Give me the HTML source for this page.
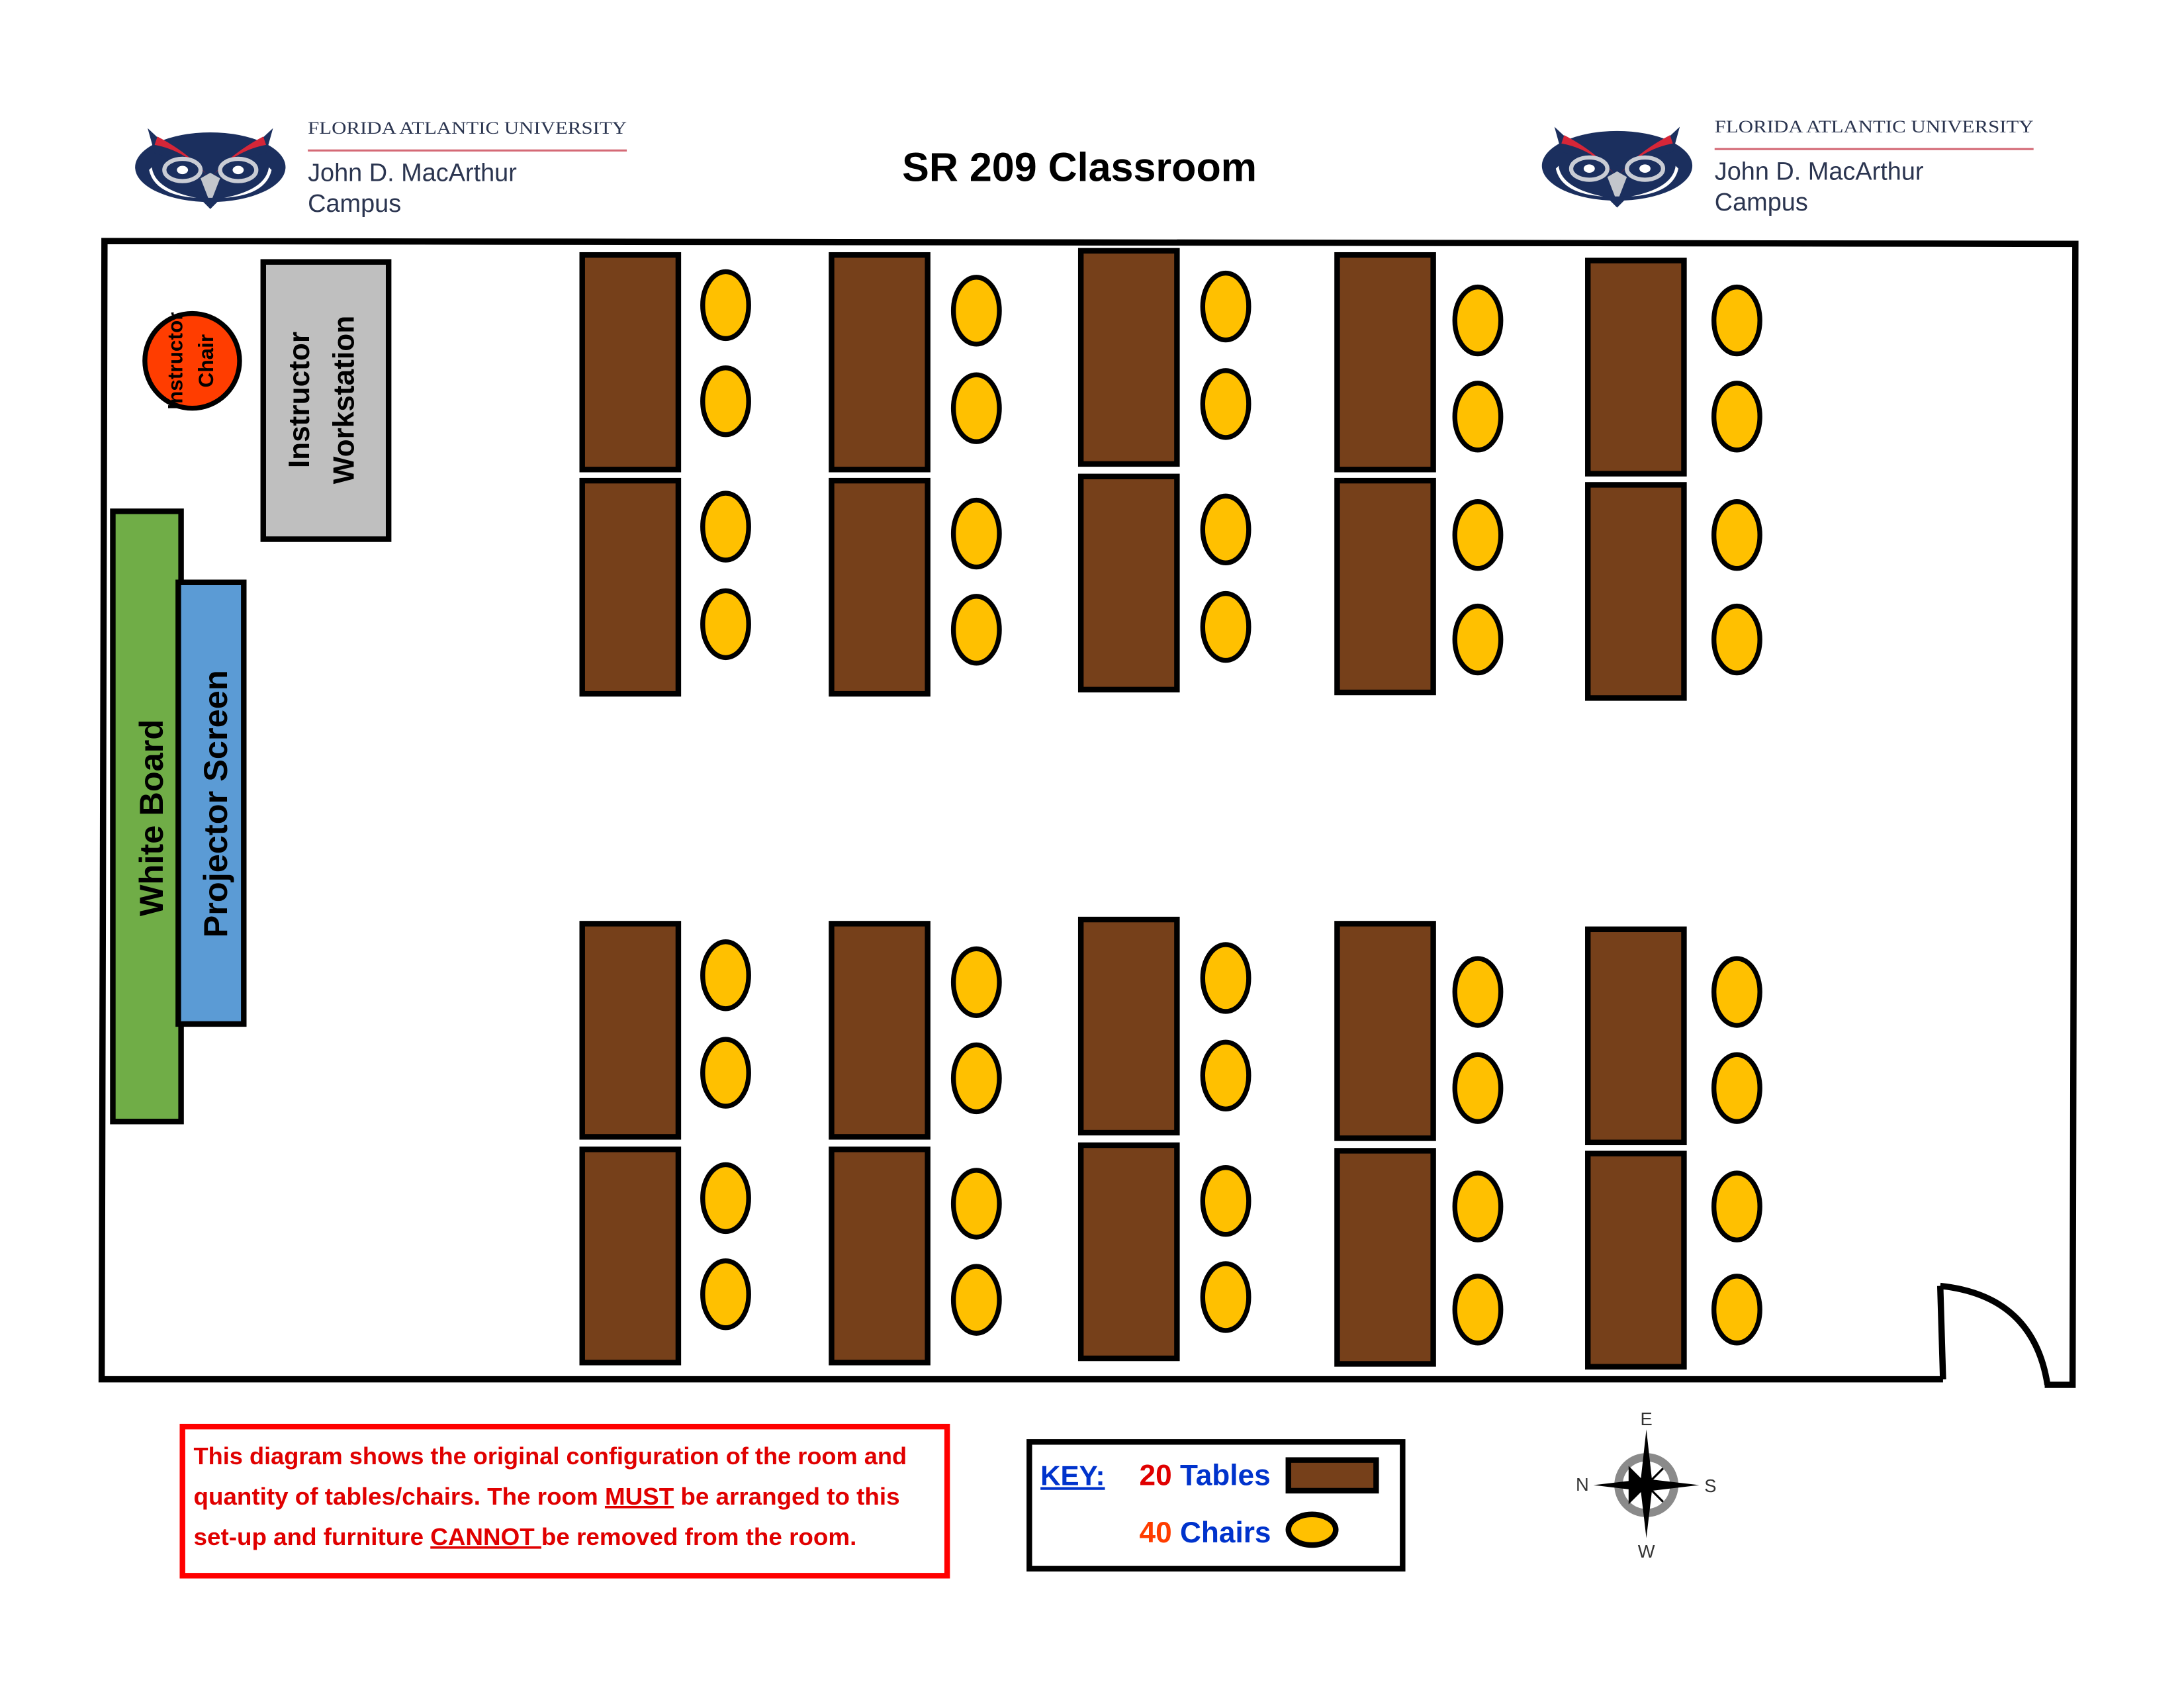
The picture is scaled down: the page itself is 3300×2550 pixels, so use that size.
<!DOCTYPE html>
<html><head><meta charset="utf-8"><style>
html,body{margin:0;padding:0;background:#fff;}
svg{display:block;}
</style></head><body>
<svg width="3300" height="2550" viewBox="0 0 1568 1211.6" xmlns="http://www.w3.org/2000/svg" font-family="Liberation Sans, sans-serif">
<defs>
<g id="owl">
  <ellipse cx="0" cy="0" rx="54" ry="25" fill="#1b2f5e"/>
  <path d="M-45,-28 L-30,-14 L-8,-6 L0,8 L8,-6 L30,-14 L45,-28 L40,-10 L0,0 L-40,-10 Z" fill="#1b2f5e"/>
  <path d="M-38,-22 Q-15,-10 -2,6 Q-18,-12 -40,-16 Z" fill="#d62638"/>
  <path d="M38,-22 Q15,-10 2,6 Q18,-12 40,-16 Z" fill="#d62638"/>
  <path d="M-44,2 Q-40,20 -10,22 Q-40,16 -42,0 Z" fill="#fff"/>
  <path d="M44,2 Q40,20 10,22 Q40,16 42,0 Z" fill="#fff"/>
  <ellipse cx="-20" cy="2" rx="13" ry="8" fill="none" stroke="#c9ccd4" stroke-width="3"/>
  <ellipse cx="20" cy="2" rx="13" ry="8" fill="none" stroke="#c9ccd4" stroke-width="3"/>
  <ellipse cx="-20" cy="2" rx="4" ry="3" fill="#fff"/>
  <ellipse cx="20" cy="2" rx="4" ry="3" fill="#fff"/>
  <path d="M-7,8 L0,4 L7,8 L0,26 Z" fill="#c3c6cc"/>
  <path d="M-8,22 L0,30 L8,22 Z" fill="#1b2f5e"/>
</g>
<g id="logotext">
  <text x="0" y="0" font-family="Liberation Serif, serif" font-size="12.5" fill="#2b3550" textLength="229" lengthAdjust="spacingAndGlyphs">FLORIDA ATLANTIC UNIVERSITY</text>
  <line x1="0" y1="12" x2="229" y2="12" stroke="#d46a76" stroke-width="1.5"/>
  <text x="0" y="34" font-size="18" fill="#2b3550">John D. MacArthur</text>
  <text x="0" y="56" font-size="18" fill="#2b3550">Campus</text>
</g>
<ellipse id="ch" rx="16.5" ry="24" fill="#ffc000" stroke="#000" stroke-width="3.5"/>
</defs>

<use href="#owl" transform="translate(151,120)"/>
<use href="#logotext" transform="translate(221,96)"/>
<use href="#owl" transform="translate(1161,119)"/>
<use href="#logotext" transform="translate(1231,95)"/>
<text x="775" y="130" text-anchor="middle" font-size="29" font-weight="bold" fill="#000">SR 209 Classroom</text>

<g fill="none" stroke="#000" stroke-width="4.5">
  <polyline points="1395,990 73,990 75,173 1490,175 1488,994 1468,994"/>
  <line x1="1393" y1="923" x2="1395" y2="990"/>
  <path d="M1393,923 Q1460,930 1470,994"/>
</g>

<circle cx="138" cy="259" r="34" fill="#ff3d00" stroke="#000" stroke-width="3.5"/>
<text transform="translate(131,259) rotate(-90)" text-anchor="middle" font-size="15" font-weight="bold">Instructor</text>
<text transform="translate(153,259) rotate(-90)" text-anchor="middle" font-size="15" font-weight="bold">Chair</text>

<rect x="189" y="188" width="90" height="199" fill="#bfbfbf" stroke="#000" stroke-width="4"/>
<text transform="translate(222,287) rotate(-90)" text-anchor="middle" font-size="21" font-weight="bold">Instructor</text>
<text transform="translate(254,287) rotate(-90)" text-anchor="middle" font-size="21" font-weight="bold">Workstation</text>

<rect x="81" y="367" width="49" height="438" fill="#70ad47" stroke="#000" stroke-width="4"/>
<text transform="translate(117,587) rotate(-90)" text-anchor="middle" font-size="24" font-weight="bold">White Board</text>
<rect x="128" y="418" width="47" height="317" fill="#5b9bd5" stroke="#000" stroke-width="4"/>
<text transform="translate(163,577) rotate(-90)" text-anchor="middle" font-size="24" font-weight="bold">Projector Screen</text>

<g fill="#76401a" stroke="#000" stroke-width="4">
  <rect x="418" y="183" width="69" height="154"/><rect x="418" y="345" width="69" height="153"/>
  <rect x="597" y="183" width="69" height="154"/><rect x="597" y="345" width="69" height="153"/>
  <rect x="776" y="180" width="69" height="153"/><rect x="776" y="342" width="69" height="153"/>
  <rect x="960" y="183" width="69" height="154"/><rect x="960" y="345" width="69" height="152"/>
  <rect x="1140" y="187" width="69" height="153"/><rect x="1140" y="348" width="69" height="153"/>
  <rect x="418" y="663" width="69" height="153"/><rect x="418" y="825" width="69" height="153"/>
  <rect x="597" y="663" width="69" height="153"/><rect x="597" y="825" width="69" height="153"/>
  <rect x="776" y="660" width="69" height="153"/><rect x="776" y="822" width="69" height="153"/>
  <rect x="960" y="663" width="69" height="154"/><rect x="960" y="826" width="69" height="153"/>
  <rect x="1140" y="667" width="69" height="153"/><rect x="1140" y="828" width="69" height="153"/>
</g>

<use href="#ch" x="521" y="219"/><use href="#ch" x="521" y="288"/><use href="#ch" x="521" y="378"/><use href="#ch" x="521" y="448"/>
<use href="#ch" x="701" y="223"/><use href="#ch" x="701" y="293"/><use href="#ch" x="701" y="383"/><use href="#ch" x="701" y="452"/>
<use href="#ch" x="880" y="220"/><use href="#ch" x="880" y="290"/><use href="#ch" x="880" y="380"/><use href="#ch" x="880" y="450"/>
<use href="#ch" x="1061" y="230"/><use href="#ch" x="1061" y="299"/><use href="#ch" x="1061" y="384"/><use href="#ch" x="1061" y="459"/>
<use href="#ch" x="1247" y="230"/><use href="#ch" x="1247" y="299"/><use href="#ch" x="1247" y="384"/><use href="#ch" x="1247" y="459"/>
<use href="#ch" x="521" y="700"/><use href="#ch" x="521" y="770"/><use href="#ch" x="521" y="860"/><use href="#ch" x="521" y="929"/>
<use href="#ch" x="701" y="705"/><use href="#ch" x="701" y="774"/><use href="#ch" x="701" y="864"/><use href="#ch" x="701" y="933"/>
<use href="#ch" x="880" y="702"/><use href="#ch" x="880" y="772"/><use href="#ch" x="880" y="862"/><use href="#ch" x="880" y="931"/>
<use href="#ch" x="1061" y="712"/><use href="#ch" x="1061" y="781"/><use href="#ch" x="1061" y="866"/><use href="#ch" x="1061" y="940"/>
<use href="#ch" x="1247" y="712"/><use href="#ch" x="1247" y="781"/><use href="#ch" x="1247" y="866"/><use href="#ch" x="1247" y="940"/>

<rect x="131" y="1024" width="549" height="107" fill="none" stroke="#ff0000" stroke-width="4"/>
<g fill="#e00000" font-size="17" font-weight="bold">
  <text x="139" y="1051" textLength="512" lengthAdjust="spacingAndGlyphs">This diagram shows the original configuration of the room and</text>
  <text x="139" y="1080" textLength="507" lengthAdjust="spacingAndGlyphs">quantity of tables/chairs. The room <tspan text-decoration="underline">MUST</tspan> be arranged to this</text>
  <text x="139" y="1109" textLength="476" lengthAdjust="spacingAndGlyphs">set-up and furniture <tspan text-decoration="underline">CANNOT </tspan>be removed from the room.</text>
</g>

<rect x="739" y="1035" width="268" height="91" fill="none" stroke="#000" stroke-width="4"/>
<text x="747" y="1066" font-size="20" font-weight="bold" fill="#0033cc" text-decoration="underline">KEY:</text>
<text x="818" y="1066" font-size="21" font-weight="bold"><tspan fill="#e00000">20</tspan><tspan fill="#0033cc"> Tables</tspan></text>
<rect x="925" y="1048" width="63" height="22" fill="#76401a" stroke="#000" stroke-width="4"/>
<text x="818" y="1107" font-size="21" font-weight="bold"><tspan fill="#ff3d00">40</tspan><tspan fill="#0033cc"> Chairs</tspan></text>
<ellipse cx="942" cy="1098" rx="17" ry="11" fill="#ffc000" stroke="#000" stroke-width="4"/>

<g transform="translate(1182,1066)">
  <circle r="20" fill="none" stroke="#8a8a8a" stroke-width="6"/>
  <path d="M0,-40 L4,-4 L0,0 L-4,-4 Z" fill="#000"/>
  <path d="M0,38 L-4,4 L0,0 L4,4 Z" fill="#000"/>
  <path d="M-38,0 L-4,-4 L0,0 L-4,4 Z" fill="#000"/>
  <path d="M38,0 L4,4 L0,0 L4,-4 Z" fill="#000"/>
  <path d="M-12,-12 L0,0 L12,-12 L0,0 L12,12 L0,0 L-12,12 Z" stroke="#000" stroke-width="1.5"/>
  <text x="0" y="-43" text-anchor="middle" font-size="13" fill="#333">E</text>
  <text x="-46" y="4" text-anchor="middle" font-size="13" fill="#333">N</text>
  <text x="46" y="5" text-anchor="middle" font-size="13" fill="#333">S</text>
  <text x="0" y="52" text-anchor="middle" font-size="13" fill="#333">W</text>
</g>
</svg>
</body></html>
